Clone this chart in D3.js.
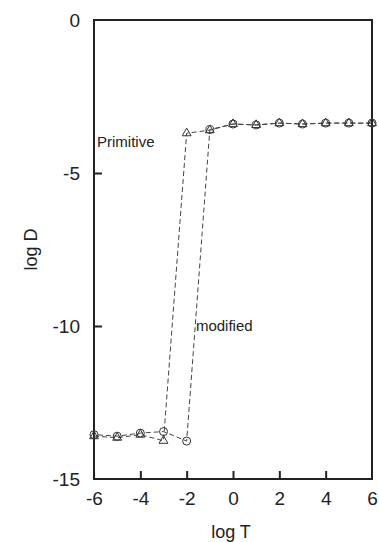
<!DOCTYPE html>
<html>
<head>
<meta charset="utf-8">
<script src="https://cdn.jsdelivr.net/npm/d3@7"></script>
<style>
  body { margin: 0; background: #fff; }
  svg { display: block; font-family: "Liberation Sans", Arial, sans-serif; }
</style>
</head>
<body>
<svg id="chart" width="379" height="542"></svg>
<script>
// log T values
const logT = [-6, -5, -4, -3, -2, -1, 0, 1, 2, 3, 4, 5, 6];
// log D, primitive scheme (triangles)
const primitive = [-13.6, -13.65, -13.55, -13.75, -3.7, -3.6, -3.4, -3.43, -3.37, -3.4, -3.37, -3.37, -3.37];
// log D, modified scheme (circles)
const modified = [-13.55, -13.6, -13.5, -13.45, -13.76, -3.58, -3.4, -3.43, -3.37, -3.4, -3.37, -3.37, -3.37];
const xTicks = [-6, -4, -2, 0, 2, 4, 6];
const yTicks = [0, -5, -10, -15];

const margin = { left: 94, right: 7, top: 20, bottom: 63 };
const width = 379 - margin.left - margin.right;
const height = 542 - margin.top - margin.bottom;

const svg = d3.select("#chart");
const g = svg.append("g")
  .attr("transform", "translate(" + margin.left + "," + margin.top + ")");

const x = d3.scaleLinear().domain([-6, 6]).range([0, width]);
const y = d3.scaleLinear().domain([-15, 0]).range([height, 0]);

// frame
g.append("rect")
  .attr("x", 0).attr("y", 0)
  .attr("width", width).attr("height", height)
  .attr("fill", "none")
  .attr("stroke", "#222")
  .attr("stroke-width", 2);

// inward ticks, plain hyphen for minus like the original
const fmt = function(d) { return String(d); };
const xAxis = d3.axisBottom(x).tickValues(xTicks).tickSize(-8).tickPadding(13).tickFormat(fmt);
const yAxis = d3.axisLeft(y).tickValues(yTicks).tickSize(-8).tickPadding(14).tickFormat(fmt);

const gx = g.append("g")
  .attr("transform", "translate(0," + height + ")")
  .call(xAxis);
const gy = g.append("g").call(yAxis);

[gx, gy].forEach(function(a) {
  a.select(".domain").remove();
  a.selectAll(".tick line").attr("stroke", "#222").attr("stroke-width", 2);
  a.selectAll(".tick text")
    .attr("fill", "#222")
    .style("font-size", "19px");
});
gx.selectAll(".tick line").filter(function(d) { return d === -6 || d === 6; }).remove();
gy.selectAll(".tick line").filter(function(d) { return d === 0 || d === -15; }).remove();

// axis titles
svg.append("text")
  .attr("x", margin.left + width / 2 - 2)
  .attr("y", 538)
  .attr("text-anchor", "middle")
  .style("font-size", "18px")
  .attr("fill", "#222")
  .text("log T");

svg.append("text")
  .attr("transform", "translate(37," + (margin.top + height / 2) + ") rotate(-90)")
  .attr("text-anchor", "middle")
  .style("font-size", "18px")
  .attr("fill", "#222")
  .text("log D");

// series lines
const line = d3.line()
  .x(function(d) { return x(d[0]); })
  .y(function(d) { return y(d[1]); });

const triData = logT.map(function(t, i) { return [t, primitive[i]]; });
const circData = logT.map(function(t, i) { return [t, modified[i]]; });

g.append("path")
  .datum(triData)
  .attr("d", line)
  .attr("fill", "none")
  .attr("stroke", "#444")
  .attr("stroke-width", 1)
  .attr("stroke-dasharray", "5,3");

g.append("path")
  .datum(circData)
  .attr("d", line)
  .attr("fill", "none")
  .attr("stroke", "#444")
  .attr("stroke-width", 1)
  .attr("stroke-dasharray", "5,3")
  .attr("stroke-dashoffset", 4);

// markers
g.selectAll(".tri")
  .data(triData)
  .enter()
  .append("path")
  .attr("class", "tri")
  .attr("transform", function(d) { return "translate(" + x(d[0]) + "," + y(d[1]) + ")"; })
  .attr("d", d3.symbol().type(d3.symbolTriangle).size(34))
  .attr("fill", "none")
  .attr("stroke", "#333")
  .attr("stroke-width", 1);

g.selectAll(".circ")
  .data(circData)
  .enter()
  .append("circle")
  .attr("class", "circ")
  .attr("cx", function(d) { return x(d[0]); })
  .attr("cy", function(d) { return y(d[1]); })
  .attr("r", 4)
  .attr("fill", "none")
  .attr("stroke", "#333")
  .attr("stroke-width", 1);

// annotations
g.append("text")
  .attr("x", x(-5.87))
  .attr("y", y(-4.0) + 5)
  .style("font-size", "15px")
  .attr("fill", "#222")
  .text("Primitive");

g.append("text")
  .attr("x", x(-1.6))
  .attr("y", y(-10) + 5)
  .style("font-size", "15px")
  .attr("fill", "#222")
  .text("modified");
</script>
</body>
</html>
